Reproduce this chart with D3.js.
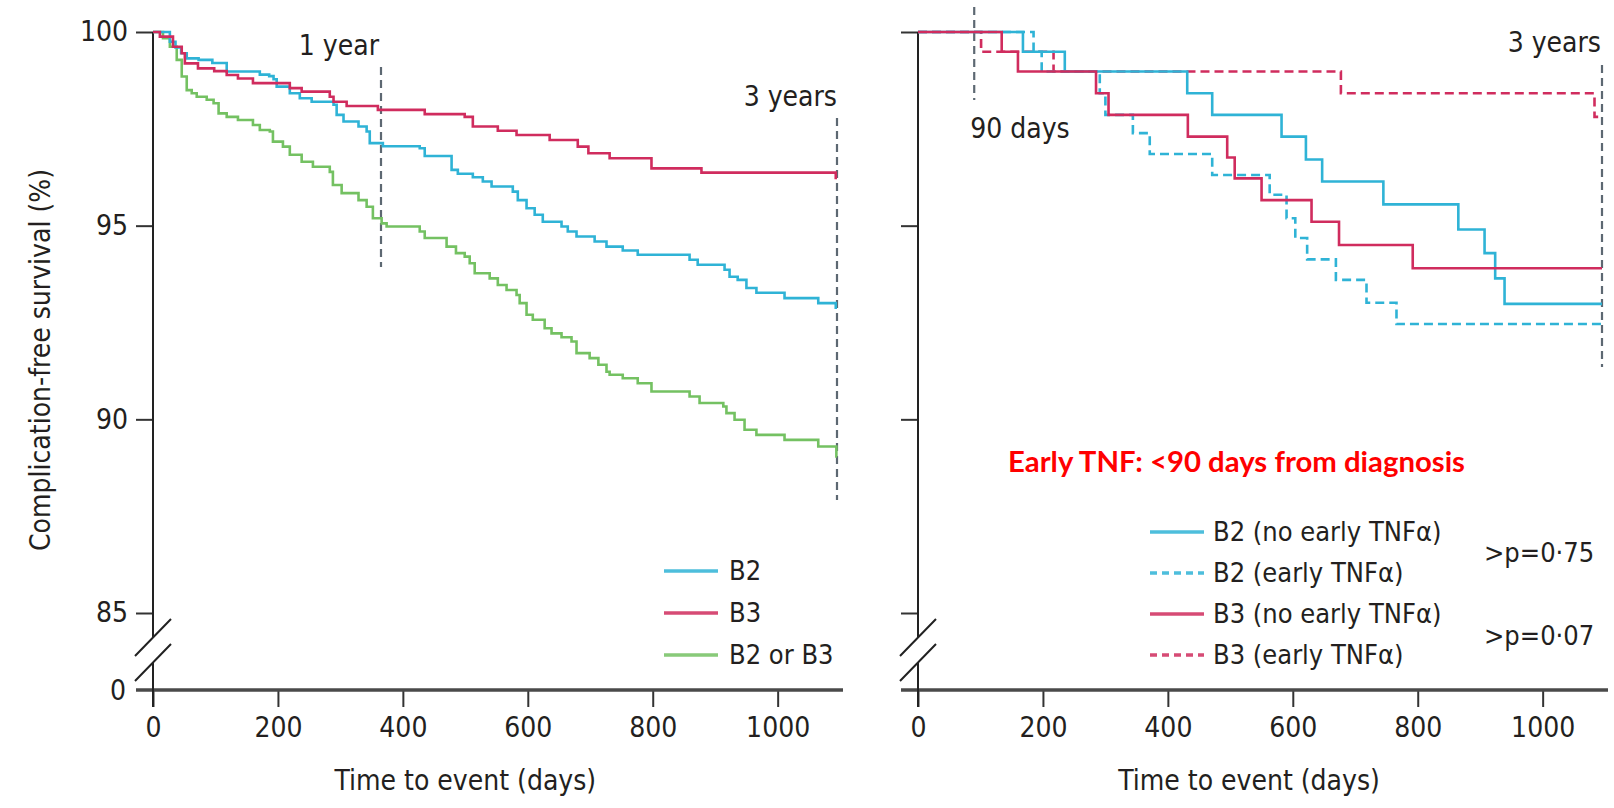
<!DOCTYPE html>
<html>
<head>
<meta charset="utf-8">
<script src="https://cdn.jsdelivr.net/npm/d3@7"></script>
<style>
  body { margin: 0; background: #fff; }
  svg text { font-family: "Liberation Sans Narrow", "DejaVu Sans Condensed", "Liberation Sans", sans-serif; fill: #231f20; }
  .red-note { font-family: Lato, "Open Sans", sans-serif !important; font-weight: bold; fill: #ff0000 !important; }
</style>
</head>
<body>
<svg id="chart" width="1614" height="808"></svg>
<script>
// ticks and follow-up
const xTicks = [0, 200, 400, 600, 800, 1000];
const yTicks = [85, 90, 95, 100];
const followUp = 1095; // 3 years

// left panel: day of each step, survival (%) after it
const b2Days = [27, 36, 45, 54, 73, 95, 118, 171, 186, 193, 198, 219, 235, 254, 289, 294, 305, 329, 342, 347, 368, 427, 435, 478, 488, 512, 528, 542, 576, 584, 598, 611, 624, 654, 664, 678, 707, 726, 752, 776, 859, 872, 915, 923, 936, 950, 966, 1011, 1065, 1093];
const b2Surv = [99.75, 99.6, 99.45, 99.32, 99.28, 99.2, 98.98, 98.9, 98.86, 98.78, 98.59, 98.42, 98.29, 98.2, 98.12, 97.86, 97.69, 97.56, 97.43, 97.13, 97.05, 97.0, 96.8, 96.44, 96.34, 96.25, 96.14, 96.01, 95.88, 95.66, 95.45, 95.28, 95.1, 94.98, 94.85, 94.72, 94.59, 94.46, 94.36, 94.25, 94.12, 93.99, 93.86, 93.68, 93.6, 93.39, 93.27, 93.13, 93.0, 92.88];

const b3Days = [11, 32, 46, 51, 72, 98, 118, 136, 160, 219, 238, 283, 289, 310, 360, 435, 499, 512, 552, 582, 635, 680, 697, 731, 798, 878, 1093];
const b3Surv = [99.88, 99.62, 99.45, 99.19, 99.06, 98.99, 98.89, 98.8, 98.68, 98.55, 98.46, 98.33, 98.2, 98.09, 97.99, 97.88, 97.81, 97.56, 97.45, 97.34, 97.21, 97.04, 96.87, 96.74, 96.48, 96.37, 96.23];

const anyDays = [16, 27, 38, 46, 54, 62, 70, 86, 97, 105, 118, 136, 160, 171, 187, 192, 208, 219, 238, 256, 283, 288, 302, 329, 342, 352, 366, 374, 427, 435, 470, 485, 499, 507, 515, 539, 552, 566, 582, 587, 598, 608, 627, 638, 654, 670, 678, 699, 713, 726, 731, 752, 776, 798, 859, 875, 913, 918, 931, 947, 966, 1011, 1065, 1094];
const anySurv = [99.84, 99.62, 99.28, 98.85, 98.5, 98.42, 98.33, 98.25, 98.16, 97.9, 97.81, 97.73, 97.6, 97.47, 97.43, 97.17, 97.04, 96.83, 96.65, 96.52, 96.39, 96.05, 95.84, 95.66, 95.49, 95.19, 95.06, 94.98, 94.85, 94.68, 94.46, 94.29, 94.2, 94.03, 93.77, 93.64, 93.47, 93.34, 93.21, 93.0, 92.7, 92.57, 92.35, 92.22, 92.12, 92.01, 91.71, 91.58, 91.41, 91.23, 91.15, 91.06, 90.93, 90.72, 90.59, 90.42, 90.33, 90.16, 89.99, 89.73, 89.6, 89.47, 89.3, 89.04];

// right panel, by early anti-TNF use
const b2NoEarlyDays = [168, 235, 431, 471, 582, 621, 647, 745, 865, 907, 924, 939];
const b2NoEarlySurv = [99.49, 98.98, 98.42, 97.86, 97.3, 96.71, 96.14, 95.55, 94.9, 94.29, 93.64, 92.98];
const b2EarlyDays = [185, 198, 291, 300, 344, 371, 471, 563, 590, 604, 623, 669, 718, 766];
const b2EarlySurv = [99.49, 98.98, 98.42, 97.86, 97.39, 96.85, 96.31, 95.8, 95.19, 94.68, 94.13, 93.6, 93.01, 92.46];
const b3NoEarlyDays = [134, 160, 285, 305, 432, 495, 507, 550, 630, 674, 792];
const b3NoEarlySurv = [99.49, 98.98, 98.42, 97.86, 97.3, 96.76, 96.22, 95.66, 95.1, 94.5, 93.9];
const b3EarlyDays = [101, 217, 677, 1083];
const b3EarlySurv = [99.49, 98.98, 98.42, 97.81];

const cyan = "#2fb3d6", crimson = "#d02c5e", green = "#74c162", refGrey = "#5d6872";

const svg = d3.select("#chart");

function steps(days, surv) {
  const pts = [[0, 100]];
  days.forEach((d, i) => pts.push([d, surv[i]]));
  pts.push([followUp, surv[surv.length - 1]]);
  return pts;
}

function drawPanel(left, showYLabels) {
  const x = d3.scaleLinear().domain([0, followUp]).range([left, left + 684]);
  const y = d3.scaleLinear().domain([85, 100]).range([613, 32]);
  const g = svg.append("g");

  // x axis
  const xa = g.append("g").attr("transform", "translate(0,690)")
    .call(d3.axisBottom(x).tickValues(xTicks).tickSize(17).tickPadding(10).tickFormat(d3.format("d")));
  xa.select(".domain").remove();
  xa.selectAll(".tick line").attr("stroke", "#333").attr("stroke-width", 2);
  xa.selectAll(".tick text").attr("font-size", 28).attr("fill", "#231f20");
  g.append("line").attr("x1", left - 17).attr("x2", left + 690)
    .attr("y1", 690).attr("y2", 690).attr("stroke", "#4a4a4a").attr("stroke-width", 3.5);

  // y axis, broken between 85 and 0
  const ya = g.append("g").attr("transform", `translate(${left},0)`)
    .call(d3.axisLeft(y).tickValues(yTicks).tickSize(17).tickPadding(8)
      .tickFormat(showYLabels ? d3.format("d") : ""));
  ya.select(".domain").remove();
  ya.selectAll(".tick line").attr("stroke", "#333").attr("stroke-width", 2);
  ya.selectAll(".tick text").attr("font-size", 28).attr("fill", "#231f20");
  g.append("path").attr("d", `M${left},${y(100)}V638M${left},663V707`)
    .attr("stroke", "#222").attr("stroke-width", 2).attr("fill", "none");
  g.append("path").attr("d", `M${left - 18},656L${left + 18},619M${left - 18},681L${left + 18},644`)
    .attr("stroke", "#222").attr("stroke-width", 2).attr("fill", "none");
  if (showYLabels) {
    g.append("text").attr("x", left - 27).attr("y", 690).attr("dy", "0.35em")
      .attr("text-anchor", "end").attr("font-size", 28).text("0");
  }
  return { g, x, y };
}

const line = (x, y) => d3.line().x(d => x(d[0])).y(d => y(d[1])).curve(d3.curveStepAfter);

function refLine(g, xPos, y1, y2) {
  g.append("line").attr("x1", xPos).attr("x2", xPos).attr("y1", y1).attr("y2", y2)
    .attr("stroke", refGrey).attr("stroke-width", 2.2).attr("stroke-dasharray", "8,5");
}

// ---- left panel ----
const L = drawPanel(153, true);
refLine(L.g, L.x(365), 67, 267);
refLine(L.g, L.x(followUp), 118, 500);
L.g.append("text").attr("x", L.x(365) - 2).attr("y", 55).attr("text-anchor", "end").attr("font-size", 28).text("1 year");
L.g.append("text").attr("x", L.x(followUp)).attr("y", 106).attr("text-anchor", "end").attr("font-size", 28).text("3 years");

[[anyDays, anySurv, green], [b2Days, b2Surv, cyan], [b3Days, b3Surv, crimson]].forEach(([d, s, c]) => {
  L.g.append("path").attr("d", line(L.x, L.y)(steps(d, s)))
    .attr("fill", "none").attr("stroke", c).attr("stroke-width", 2.6);
});

L.g.append("text").attr("transform", "translate(50,360) rotate(-90)")
  .attr("text-anchor", "middle").attr("font-size", 28).text("Complication-free survival (%)");
L.g.append("text").attr("x", L.x(500)).attr("y", 790).attr("text-anchor", "middle")
  .attr("font-size", 28).text("Time to event (days)");

const leftLegend = [["B2", cyan], ["B3", crimson], ["B2 or B3", green]];
leftLegend.forEach(([name, c], i) => {
  const yy = 571 + i * 42;
  L.g.append("line").attr("x1", 664).attr("x2", 718).attr("y1", yy).attr("y2", yy)
    .attr("stroke", c).attr("stroke-width", 3.5).attr("opacity", 0.85);
  L.g.append("text").attr("x", 729).attr("y", yy).attr("dy", "0.35em").attr("font-size", 27).text(name);
});

// ---- right panel ----
const R = drawPanel(918, false);
refLine(R.g, R.x(90), 7, 100);
refLine(R.g, R.x(followUp), 65, 367);
R.g.append("text").attr("x", R.x(90) - 4).attr("y", 138).attr("font-size", 28).text("90 days");
R.g.append("text").attr("x", R.x(followUp) - 1).attr("y", 52).attr("text-anchor", "end").attr("font-size", 28).text("3 years");

const rightSeries = [
  [b3EarlyDays, b3EarlySurv, crimson, "9,5", "B3 (early TNFα)"],
  [b2EarlyDays, b2EarlySurv, cyan, "9,5", "B2 (early TNFα)"],
  [b2NoEarlyDays, b2NoEarlySurv, cyan, null, "B2 (no early TNFα)"],
  [b3NoEarlyDays, b3NoEarlySurv, crimson, null, "B3 (no early TNFα)"]
];
rightSeries.forEach(([d, s, c, dash]) => {
  R.g.append("path").attr("d", line(R.x, R.y)(steps(d, s)))
    .attr("fill", "none").attr("stroke", c).attr("stroke-width", 2.6)
    .attr("stroke-dasharray", dash);
});

R.g.append("text").attr("x", R.x(530)).attr("y", 790).attr("text-anchor", "middle")
  .attr("font-size", 28).text("Time to event (days)");

R.g.append("text").attr("class", "red-note").attr("x", 1008).attr("y", 472)
  .attr("font-size", 28).attr("textLength", 457).attr("lengthAdjust", "spacingAndGlyphs")
  .text("Early TNF: <90 days from diagnosis");

const rightLegend = [rightSeries[2], rightSeries[1], rightSeries[3], rightSeries[0]];
rightLegend.forEach(([, , c, dash, name], i) => {
  const yy = 532 + i * 41;
  R.g.append("line").attr("x1", 1150).attr("x2", 1204).attr("y1", yy).attr("y2", yy)
    .attr("stroke", c).attr("stroke-width", 3.5).attr("opacity", 0.85)
    .attr("stroke-dasharray", dash ? "7,5" : null);
  R.g.append("text").attr("x", 1213).attr("y", yy).attr("dy", "0.35em").attr("font-size", 27).text(name);
});
const pValues = [">p=0·75", ">p=0·07"];
pValues.forEach((p, i) => {
  R.g.append("text").attr("x", 1484).attr("y", 553 + i * 83).attr("dy", "0.35em")
    .attr("font-size", 27).text(p);
});
</script>
</body>
</html>
